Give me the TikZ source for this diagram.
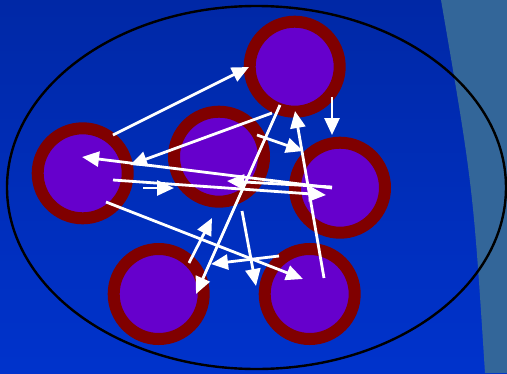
\documentclass[tikz,border=0pt]{standalone}
\usetikzlibrary{arrows.meta}
\definecolor{bgtop}{RGB}{0,40,166}
\definecolor{bgbot}{RGB}{0,51,204}
\definecolor{steel}{RGB}{51,102,153}
\definecolor{ringred}{RGB}{128,0,0}
\definecolor{ballfill}{RGB}{102,0,204}
\tikzset{
  ball/.style={circle, draw=ringred, fill=ballfill, line width=12pt, minimum size=90pt, inner sep=0pt},
  link/.style={draw=white, line width=2.8pt, -{Triangle[length=17pt,width=15pt]}},
}
\begin{document}
\begin{tikzpicture}[x=1pt,y=-1pt]
\useasboundingbox (0,0) rectangle (507,373);
\shade[top color=bgtop, bottom color=bgbot] (0,0) rectangle (507,373);
\fill[steel] (441,0) .. controls (473,186) .. (485,373) -- (507,373) -- (507,0) -- cycle;
\draw[black, line width=2.4pt] (256.5,187.5) ellipse [x radius=249.5pt, y radius=181.5pt];
\node[ball] (top) at (294.7,66.7) {};
\node[ball] (left) at (82.7,173.3) {};
\node[ball] (mid) at (219,156.7) {};
\node[ball] (right) at (340,187.7) {};
\node[ball] (botl) at (158.7,294) {};
\node[ball] (botr) at (309.7,294) {};
% endpoints
\coordinate (s1) at (113,135);  \coordinate (e1) at (249,67);
\coordinate (s2) at (332,97);   \coordinate (e2) at (332,135);
\coordinate (s3) at (272,113);  \coordinate (e3) at (130,165);
\coordinate (s4) at (257,135);  \coordinate (e4) at (303,151);
\coordinate (s5) at (280,105);  \coordinate (e5) at (196,294);
\coordinate (s6) at (324,278);  \coordinate (e6) at (295,111);
\coordinate (s7) at (332,188);  \coordinate (e7) at (82,157);
\coordinate (s8) at (332,187);  \coordinate (e8) at (227,181);
\coordinate (s9) at (113,180);  \coordinate (e9) at (326,195);
\coordinate (s10) at (143,188); \coordinate (e10) at (174,188);
\coordinate (s11) at (106,202); \coordinate (e11) at (303,279);
\coordinate (s12) at (189,263); \coordinate (e12) at (212,218);
\coordinate (s13) at (242,211); \coordinate (e13) at (256,286);
\coordinate (s14) at (279,256); \coordinate (e14) at (211,264);
\foreach \i in {1,...,14} { \draw[link] (s\i) -- (e\i); }
\end{tikzpicture}
\end{document}
